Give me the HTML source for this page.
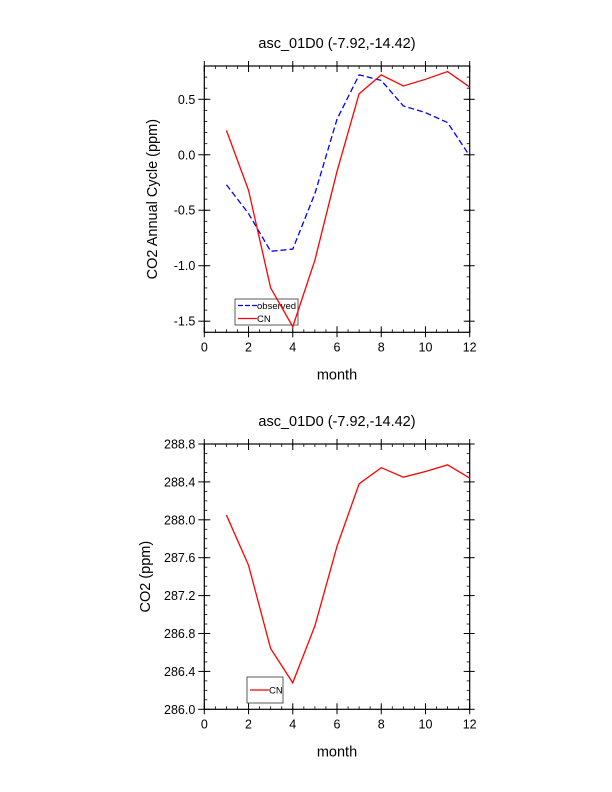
<!DOCTYPE html>
<html><head><meta charset="utf-8"><style>
html,body{margin:0;padding:0;background:#fff}
svg{display:block;font-family:"Liberation Sans",sans-serif}
</style></head><body>
<svg id="c" width="612" height="792"></svg>
<script>
const months=[1,2,3,4,5,6,7,8,9,10,11,12];
const cnAnomaly=[0.22,-0.32,-1.2,-1.55,-0.95,-0.15,0.55,0.72,0.62,0.68,0.75,0.61];
const observedAnomaly=[-0.27,-0.53,-0.87,-0.85,-0.35,0.32,0.72,0.67,0.44,0.38,0.29,-0.01];
const cnCO2=[288.05,287.52,286.64,286.28,286.88,287.72,288.38,288.55,288.45,288.51,288.58,288.44];
const xTicks=[0,2,4,6,8,10,12];
const yTicksTop=[-1.5,-1.0,-0.5,0.0,0.5];
const yTicksBottom=[286.0,286.4,286.8,287.2,287.6,288.0,288.4,288.8];

const NS="http://www.w3.org/2000/svg";
const svg=document.getElementById('c');
function el(tag,attrs,parent){const e=document.createElementNS(NS,tag);for(const k in attrs)e.setAttribute(k,attrs[k]);(parent||svg).appendChild(e);return e;}
function txt(s,attrs,parent){const e=el('text',attrs,parent);e.textContent=s;return e;}

function panel(cfg){
  const g=el('g',{});
  
  
  const L=204.3,R=469.7,T=cfg.top,B=cfg.bottom;
  const xs=v=>L+(v-0)/(12-0)*(R-L);
  const ys=v=>B-(v-cfg.ymin)/(cfg.ymax-cfg.ymin)*(B-T);
  for(let v=0;v<=12.001;v+=0.5){
    const x=xs(v);
    el('line',{x1:x,y1:B,x2:x,y2:B-3,stroke:'#000','stroke-width':0.8},g);
    el('line',{x1:x,y1:T,x2:x,y2:T+3,stroke:'#000','stroke-width':0.8},g);
  }
  for(let v=cfg.ymin;v<=cfg.ymax+1e-6;v+=0.1){
    const y=ys(v);
    el('line',{x1:L,y1:y,x2:L+3,y2:y,stroke:'#000','stroke-width':0.8},g);
    el('line',{x1:R,y1:y,x2:R-3,y2:y,stroke:'#000','stroke-width':0.8},g);
  }
  xTicks.forEach(v=>{
    const x=xs(v);
    el('line',{x1:x,y1:B+5,x2:x,y2:B-6,stroke:'#000','stroke-width':1},g);
    el('line',{x1:x,y1:T-5,x2:x,y2:T+6,stroke:'#000','stroke-width':1},g);
    const t=txt(String(v),{x:x,y:B+19,'text-anchor':'middle','font-size':12.5},g);
    
    
  });
  cfg.yTicks.forEach(v=>{
    const y=ys(v);
    el('line',{x1:L-6,y1:y,x2:L+6,y2:y,stroke:'#000','stroke-width':1},g);
    el('line',{x1:R+5,y1:y,x2:R-6,y2:y,stroke:'#000','stroke-width':1},g);
    const t=txt(v.toFixed(1),{x:L-9,y:y+4.5,'text-anchor':'end','font-size':12.5},g);
    
    
  });
  el('rect',{x:L,y:T,width:R-L,height:B-T,fill:'none',stroke:'#000','stroke-width':1.2},g);
  const lg=el('g',{},g);
  
  
  const lb=cfg.legend;
  el('rect',{x:lb.x,y:lb.y,width:lb.w,height:lb.h,fill:'none',stroke:'#333','stroke-width':0.8},lg);
  lb.items.forEach((it,i)=>{
    const yy=lb.y+lb.h/(lb.items.length*2)*(2*i+1);
    el('line',{x1:lb.x+3,y1:yy,x2:lb.x+22,y2:yy,stroke:it.color,'stroke-width':1.2,'stroke-dasharray':it.dash||'none'},lg);
    const t=txt(it.label,{x:lb.x+22,y:yy+3.5,'font-size':9.5},lg);
    
    
  });
  cfg.series.forEach(s=>{
    const p=el('polyline',{points:months.map((m,i)=>xs(m)+','+ys(s.data[i])).join(' '),fill:'none',stroke:s.color,'stroke-width':1.3,'stroke-dasharray':s.dash||'none'},g);
    
    
  });
  const tt=txt('asc_01D0 (-7.92,-14.42)',{x:337,y:T-18,'text-anchor':'middle','font-size':14.5},g);
  
  
  const xl=txt('month',{x:337,y:B+47,'text-anchor':'middle','font-size':14.5},g);
  
  
  const yl=txt(cfg.ylabel,{x:0,y:0,'text-anchor':'middle','font-size':14.5,transform:`translate(${cfg.ylabelX},${(T+B)/2}) rotate(-90)`},g);
  
  
}

panel({name:'annual-cycle-panel',top:66,bottom:332.3,ymin:-1.6,ymax:0.8,yTicks:yTicksTop,
  ylabel:'CO2 Annual Cycle (ppm)',ylabelX:157,
  series:[{name:'observed-line',data:observedAnomaly,color:'#0000ff',dash:'6,3'},{name:'cn-line',data:cnAnomaly,color:'#ff0000'}],
  legend:{x:235,y:299,w:63,h:26,items:[{label:'observed',color:'#0000ff',dash:'5,2'},{label:'CN',color:'#ff0000'}]}});
panel({name:'co2-panel',top:444,bottom:709.3,ymin:286.0,ymax:288.8,yTicks:yTicksBottom,
  ylabel:'CO2 (ppm)',ylabelX:150,
  series:[{name:'cn-line',data:cnCO2,color:'#ff0000'}],
  legend:{x:247,y:677,w:36,h:26,items:[{label:'CN',color:'#ff0000'}]}});
</script>
</body></html>
